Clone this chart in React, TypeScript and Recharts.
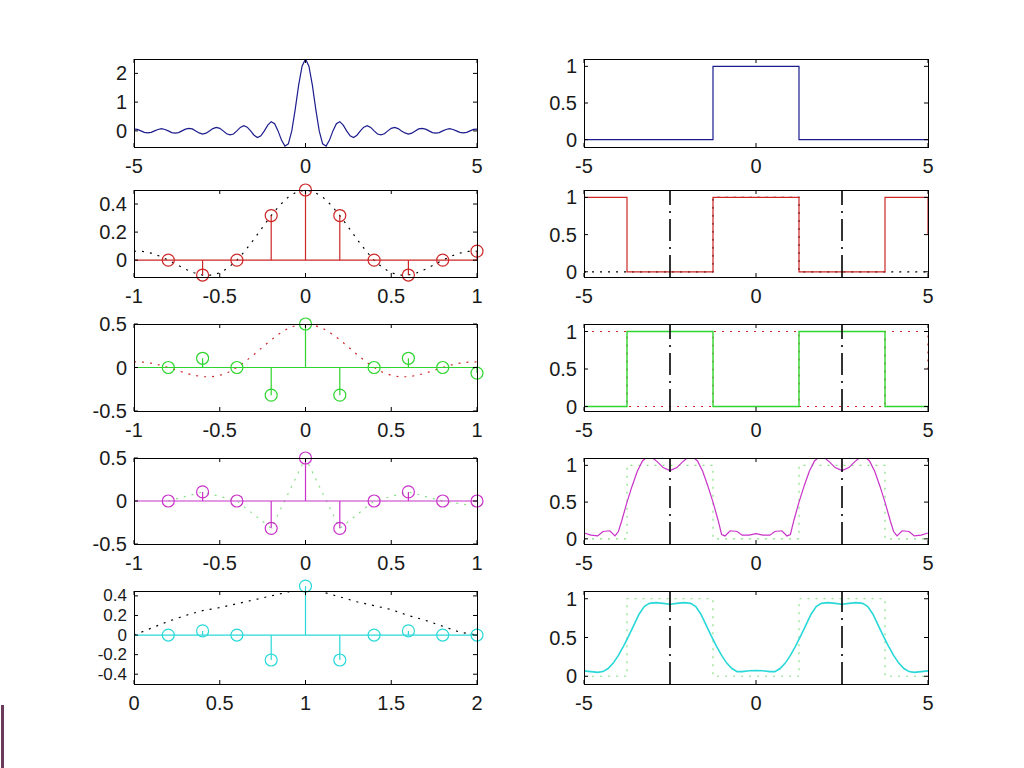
import React from "react"
import { ComposedChart, Line, XAxis, YAxis, ReferenceLine, ReferenceDot } from "recharts"

// row 1, left: sinc spectrum
const sincX = [
  -5, -4.9, -4.8, -4.7, -4.6, -4.5, -4.4, -4.3, -4.2, -4.1, -4, -3.9, -3.8, -3.7, -3.6, -3.5, -3.4,
  -3.3, -3.2, -3.1, -3, -2.9, -2.8, -2.7, -2.6, -2.5, -2.4, -2.3, -2.2, -2.1, -2, -1.9, -1.8, -1.7,
  -1.6, -1.5, -1.4, -1.3, -1.2, -1.1, -1, -0.9, -0.8, -0.7, -0.6, -0.5, -0.4, -0.3, -0.2, -0.1, 0,
  0.1, 0.2, 0.3, 0.4, 0.5, 0.6, 0.7, 0.8, 0.9, 1, 1.1, 1.2, 1.3, 1.4, 1.5, 1.6, 1.7, 1.8, 1.9, 2,
  2.1, 2.2, 2.3, 2.4, 2.5, 2.6, 2.7, 2.8, 2.9, 3, 3.1, 3.2, 3.3, 3.4, 3.5, 3.6, 3.7, 3.8, 3.9, 4,
  4.1, 4.2, 4.3, 4.4, 4.5, 4.6, 4.7, 4.8, 4.9, 5,
]
const sincY = [
  0.06, 0.05, 0, -0.05, -0.07, -0.05, 0, 0.05, 0.08, 0.05, 0, -0.06, -0.08, -0.06, 0, 0.06, 0.09,
  0.07, 0, -0.07, -0.11, -0.08, 0, 0.08, 0.12, 0.09, 0, -0.1, -0.14, -0.11, 0, 0.12, 0.18, 0.13,
  0, -0.15, -0.23, -0.17, 0, 0.2, 0.32, 0.25, 0, -0.32, -0.53, -0.45, 0, 0.75, 1.59, 2.25, 2.5,
  2.25, 1.59, 0.75, 0, -0.45, -0.53, -0.32, 0, 0.25, 0.32, 0.2, 0, -0.17, -0.23, -0.15, 0, 0.13,
  0.18, 0.12, 0, -0.11, -0.14, -0.1, 0, 0.09, 0.12, 0.08, 0, -0.07, -0.11, -0.08, 0, 0.07, 0.09,
  0.06, 0, -0.06, -0.08, -0.06, 0, 0.05, 0.08, 0.05, 0, -0.05, -0.07, -0.05, 0, 0.05, 0.06,
]

// sampled spectrum (stems) and its envelope
const stemF = [-0.8, -0.6, -0.4, -0.2, 0, 0.2, 0.4, 0.6, 0.8, 1]
const redStem = [0, -0.106, 0, 0.318, 0.5, 0.318, 0, -0.106, 0, 0.064]
const greenStem = [0, 0.106, 0, -0.318, 0.5, -0.318, 0, 0.106, 0, -0.064]
const magentaStem = [0, 0.106, 0, -0.318, 0.5, -0.318, 0, 0.106, 0, 0]
const cyanF = [0.2, 0.4, 0.6, 0.8, 1, 1.2, 1.4, 1.6, 1.8, 2]
const cyanStem = [0, 0.042, 0, -0.255, 0.5, -0.255, 0, 0.042, 0, 0]

const envF = [
  -1, -0.95, -0.9, -0.85, -0.8, -0.75, -0.7, -0.65, -0.6, -0.55, -0.5, -0.45, -0.4, -0.35, -0.3,
  -0.25, -0.2, -0.15, -0.1, -0.05, 0, 0.05, 0.1, 0.15, 0.2, 0.25, 0.3, 0.35, 0.4, 0.45, 0.5, 0.55,
  0.6, 0.65, 0.7, 0.75, 0.8, 0.85, 0.9, 0.95, 1,
]
const envY = [
  0.064, 0.062, 0.05, 0.029, 0, -0.032, -0.064, -0.09, -0.106, -0.107, -0.09, -0.054, 0, 0.07,
  0.15, 0.235, 0.318, 0.392, 0.45, 0.487, 0.5, 0.487, 0.45, 0.392, 0.318, 0.235, 0.15, 0.07, 0,
  -0.054, -0.09, -0.107, -0.106, -0.09, -0.064, -0.032, 0, 0.029, 0.05, 0.062, 0.064,
]

const triX = [0, 0.1, 0.2, 0.3, 0.4, 0.5, 0.6, 0.7, 0.8, 0.9, 1, 1.1, 1.2, 1.3, 1.4, 1.5, 1.6, 1.7, 1.8, 1.9, 2]
const triY = [0, 0.07, 0.14, 0.2, 0.25, 0.28, 0.32, 0.36, 0.4, 0.44, 0.5, 0.44, 0.39, 0.34, 0.3, 0.26, 0.2, 0.15, 0.09, 0.03, 0]

// right column: time signals
const rectX = [-5, -1.25, -1.25, 1.25, 1.25, 5]
const rectY = [0, 0, 1, 1, 0, 0]
const sqX = [-5, -3.75, -3.75, -1.25, -1.25, 1.25, 1.25, 3.75, 3.75, 5, 5]
const redSqY = [1, 1, 0, 0, 1, 1, 0, 0, 1, 1, 0.5]
const greenSqY = [0, 0, 1, 1, 0, 0, 1, 1, 0, 0, 0]

const magX = [
  -5, -4.8, -4.6, -4.45, -4.25, -4.1, -4, -3.9, -3.75, -3.6, -3.45, -3.3, -3.15, -3, -2.85, -2.7,
  -2.5, -2.3, -2.15, -2, -1.85, -1.7, -1.55, -1.4, -1.25, -1.1, -1, -0.9, -0.75, -0.55, -0.4, -0.2,
  0, 0.2, 0.4, 0.55, 0.75, 0.9, 1, 1.1, 1.25, 1.4, 1.55, 1.7, 1.85, 2, 2.15, 2.3, 2.5, 2.7, 2.85,
  3, 3.15, 3.3, 3.45, 3.6, 3.75, 3.9, 4, 4.1, 4.25, 4.45, 4.6, 4.8, 5,
]
const magY = [
  0.08, 0.05, 0.04, 0.1, 0.11, 0.04, 0.1, 0.25, 0.5, 0.72, 0.92, 1.06, 1.12, 1.1, 1.04, 0.97,
  0.93, 0.97, 1.04, 1.1, 1.12, 1.06, 0.92, 0.72, 0.5, 0.25, 0.06, 0.04, 0.11, 0.1, 0.05, 0.05,
  0.07, 0.05, 0.05, 0.1, 0.11, 0.04, 0.06, 0.25, 0.5, 0.72, 0.92, 1.06, 1.12, 1.1, 1.04, 0.97,
  0.93, 0.97, 1.04, 1.1, 1.12, 1.06, 0.92, 0.72, 0.5, 0.25, 0.1, 0.04, 0.11, 0.1, 0.04, 0.05, 0.08,
]

const cyanX = [
  -5, -4.8, -4.6, -4.45, -4.3, -4.15, -4, -3.85, -3.7, -3.55, -3.4, -3.25, -3.1, -2.9, -2.7, -2.5,
  -2.3, -2.1, -1.9, -1.75, -1.6, -1.45, -1.3, -1.15, -1, -0.85, -0.7, -0.55, -0.4, -0.2, 0, 0.2,
  0.4, 0.55, 0.7, 0.85, 1, 1.15, 1.3, 1.45, 1.6, 1.75, 1.9, 2.1, 2.3, 2.5, 2.7, 2.9, 3.1, 3.25,
  3.4, 3.55, 3.7, 3.85, 4, 4.15, 4.3, 4.45, 4.6, 4.8, 5,
]
const cyanY = [
  0.07, 0.06, 0.05, 0.06, 0.1, 0.17, 0.27, 0.39, 0.52, 0.66, 0.8, 0.9, 0.94, 0.95, 0.94, 0.93,
  0.94, 0.95, 0.94, 0.9, 0.8, 0.66, 0.52, 0.39, 0.27, 0.17, 0.1, 0.06, 0.06, 0.07, 0.075, 0.07,
  0.06, 0.06, 0.1, 0.17, 0.27, 0.39, 0.52, 0.66, 0.8, 0.9, 0.94, 0.95, 0.94, 0.93, 0.94, 0.95,
  0.94, 0.9, 0.8, 0.66, 0.52, 0.39, 0.27, 0.17, 0.1, 0.06, 0.05, 0.06, 0.07,
]

const tSymTicks = [-5, 0, 5]
const fTicks = [-1, -0.5, 0, 0.5, 1]
const f2Ticks = [0, 0.5, 1, 1.5, 2]
const markers = [-2.5, 2.5]

const BLUE = "#1c1c8e"
const RED = "#cc2626"
const GREEN = "#2fd52f"
const PALE_GREEN = "#86e086"
const MAGENTA = "#c832c8"
const CYAN = "#2ad8d8"
const DOT = "2 6"
const DASHDOT = "22 6 2 6"

const zip = (xs: number[], ys: number[]) => xs.map((x, i) => ({ x, y: ys[i] }))

const LX = 134
const RX = 584
const LW = 343
const RW = 344
const rows = [
  { top: 59, h: 88 },
  { top: 190, h: 87 },
  { top: 324, h: 87 },
  { top: 458, h: 86 },
  { top: 591, h: 93 },
]

// extra room on top so stem markers at the edge are not cut by the svg
const M = { top: 20, right: 10, left: 0, bottom: 0 }
const YW = 70
const XH = 40

function Panel({ left, w, row, xDomain, yDomain, xTicks, yTicks, yFont = 20, children }: any) {
  const { top, h } = rows[row]
  const bottom = M.top + h
  const xTick = (p: any) => (
    <g>
      <line x1={p.x} x2={p.x} y1={bottom} y2={bottom - 4} stroke="#000" />
      <line x1={p.x} x2={p.x} y1={M.top} y2={M.top + 4} stroke="#000" />
      <text x={p.x} y={bottom + 19} textAnchor="middle" dominantBaseline="central"
        fontFamily="Liberation Sans" fontSize={20} fill="#1a1a1a">{String(p.payload.value)}</text>
    </g>
  )
  const yTick = (p: any) => (
    <g>
      <line x1={YW} x2={YW + 4} y1={p.y} y2={p.y} stroke="#000" />
      <line x1={YW + w} x2={YW + w - 4} y1={p.y} y2={p.y} stroke="#000" />
      <text x={YW - 7} y={p.y} textAnchor="end" dominantBaseline="central"
        fontFamily="Liberation Sans" fontSize={yFont} fill="#1a1a1a">{String(p.payload.value)}</text>
    </g>
  )
  return (
    <div style={{ position: "absolute", left: left - YW, top: top - M.top }}>
      <ComposedChart width={w + YW + M.right} height={h + M.top + XH} margin={M}>
        <XAxis type="number" dataKey="x" domain={xDomain} ticks={xTicks} allowDataOverflow
          height={XH} tick={xTick} tickLine={false} axisLine={false} interval={0} />
        <YAxis type="number" domain={yDomain} ticks={yTicks} allowDataOverflow
          width={YW} tick={yTick} tickLine={false} axisLine={false} interval={0} />
        {children}
      </ComposedChart>
      <div style={{
        position: "absolute", left: YW, top: M.top, width: w + 1, height: h + 1,
        border: "1px solid #000", boxSizing: "border-box", pointerEvents: "none",
      }} />
    </div>
  )
}

function curve(key: string, xs: number[], ys: number[], color: string, dash?: string, width = 1.2) {
  return (
    <Line key={key} data={zip(xs, ys)} dataKey="y" type="linear" stroke={color} strokeWidth={width}
      strokeDasharray={dash} dot={false} activeDot={false} isAnimationActive={false} />
  )
}

function stems(key: string, xs: number[], ys: number[], color: string) {
  return [
    <ReferenceLine key={key + "-base"} y={0} stroke={color} strokeWidth={1.2} />,
    ...xs.map((x, i) => (
      <ReferenceLine key={key + i} segment={[{ x, y: 0 }, { x, y: ys[i] }]} stroke={color}
        strokeWidth={1.2} ifOverflow="visible" />
    )),
    ...xs.map((x, i) => (
      <ReferenceDot key={key + "o" + i} x={x} y={ys[i]} r={6} fill="none" stroke={color}
        strokeWidth={1.2} ifOverflow="visible" />
    )),
  ]
}

function dashDot() {
  return markers.map((x) => (
    <ReferenceLine key={"m" + x} x={x} stroke="#000" strokeWidth={1.6} strokeDasharray={DASHDOT} />
  ))
}

export default function App() {
  return (
    <div style={{ position: "absolute", left: 0, top: 0, width: 1024, height: 768, background: "#fff" }}>
      {/* left column: spectra */}
      <Panel left={LX} w={LW} row={0} xDomain={[-5, 5]} yDomain={[-0.56, 2.5]} xTicks={tSymTicks} yTicks={[0, 1, 2]}>
        {curve("sinc", sincX, sincY, BLUE)}
      </Panel>
      <Panel left={LX} w={LW} row={1} xDomain={[-1, 1]} yDomain={[-0.12, 0.5]} xTicks={fTicks} yTicks={[0, 0.2, 0.4]}>
        {curve("env", envF, envY, "#000", DOT)}
        {stems("r", stemF, redStem, RED)}
      </Panel>
      <Panel left={LX} w={LW} row={2} xDomain={[-1, 1]} yDomain={[-0.5, 0.5]} xTicks={fTicks} yTicks={[-0.5, 0, 0.5]}>
        {curve("env", envF, envY, RED, DOT)}
        {stems("g", stemF, greenStem, GREEN)}
      </Panel>
      <Panel left={LX} w={LW} row={3} xDomain={[-1, 1]} yDomain={[-0.5, 0.5]} xTicks={fTicks} yTicks={[-0.5, 0, 0.5]}>
        {curve("prev", stemF, greenStem, PALE_GREEN, DOT)}
        {stems("m", stemF, magentaStem, MAGENTA)}
      </Panel>
      <Panel left={LX} w={LW} row={4} xDomain={[0, 2]} yDomain={[-0.5, 0.45]} xTicks={f2Ticks}
        yTicks={[-0.4, -0.2, 0, 0.2, 0.4]} yFont={17}>
        {curve("tri", triX, triY, "#000", DOT)}
        {stems("c", cyanF, cyanStem, CYAN)}
      </Panel>

      {/* right column: signals */}
      <Panel left={RX} w={RW} row={0} xDomain={[-5, 5]} yDomain={[-0.1, 1.1]} xTicks={tSymTicks} yTicks={[0, 0.5, 1]}>
        {curve("rect", rectX, rectY, BLUE)}
      </Panel>
      <Panel left={RX} w={RW} row={1} xDomain={[-5, 5]} yDomain={[-0.07, 1.1]} xTicks={tSymTicks} yTicks={[0, 0.5, 1]}>
        {curve("rect", rectX, rectY, "#000", DOT)}
        {curve("red", sqX, redSqY, RED)}
        {dashDot()}
      </Panel>
      <Panel left={RX} w={RW} row={2} xDomain={[-5, 5]} yDomain={[-0.06, 1.1]} xTicks={tSymTicks} yTicks={[0, 0.5, 1]}>
        {curve("red", sqX, redSqY, RED, DOT)}
        {curve("green", sqX, greenSqY, GREEN, undefined, 1.4)}
        {dashDot()}
      </Panel>
      <Panel left={RX} w={RW} row={3} xDomain={[-5, 5]} yDomain={[-0.07, 1.1]} xTicks={tSymTicks} yTicks={[0, 0.5, 1]}>
        {curve("green", sqX, greenSqY, PALE_GREEN, DOT)}
        {curve("mag", magX, magY, MAGENTA)}
        {dashDot()}
      </Panel>
      <Panel left={RX} w={RW} row={4} xDomain={[-5, 5]} yDomain={[-0.1, 1.1]} xTicks={tSymTicks} yTicks={[0, 0.5, 1]}>
        {curve("green", sqX, greenSqY, PALE_GREEN, DOT)}
        {curve("cyan", cyanX, cyanY, CYAN, undefined, 1.6)}
        {dashDot()}
      </Panel>

      <div style={{ position: "absolute", left: 1, top: 705, width: 3, height: 63, background: "#6a3a5c" }} />
    </div>
  )
}
